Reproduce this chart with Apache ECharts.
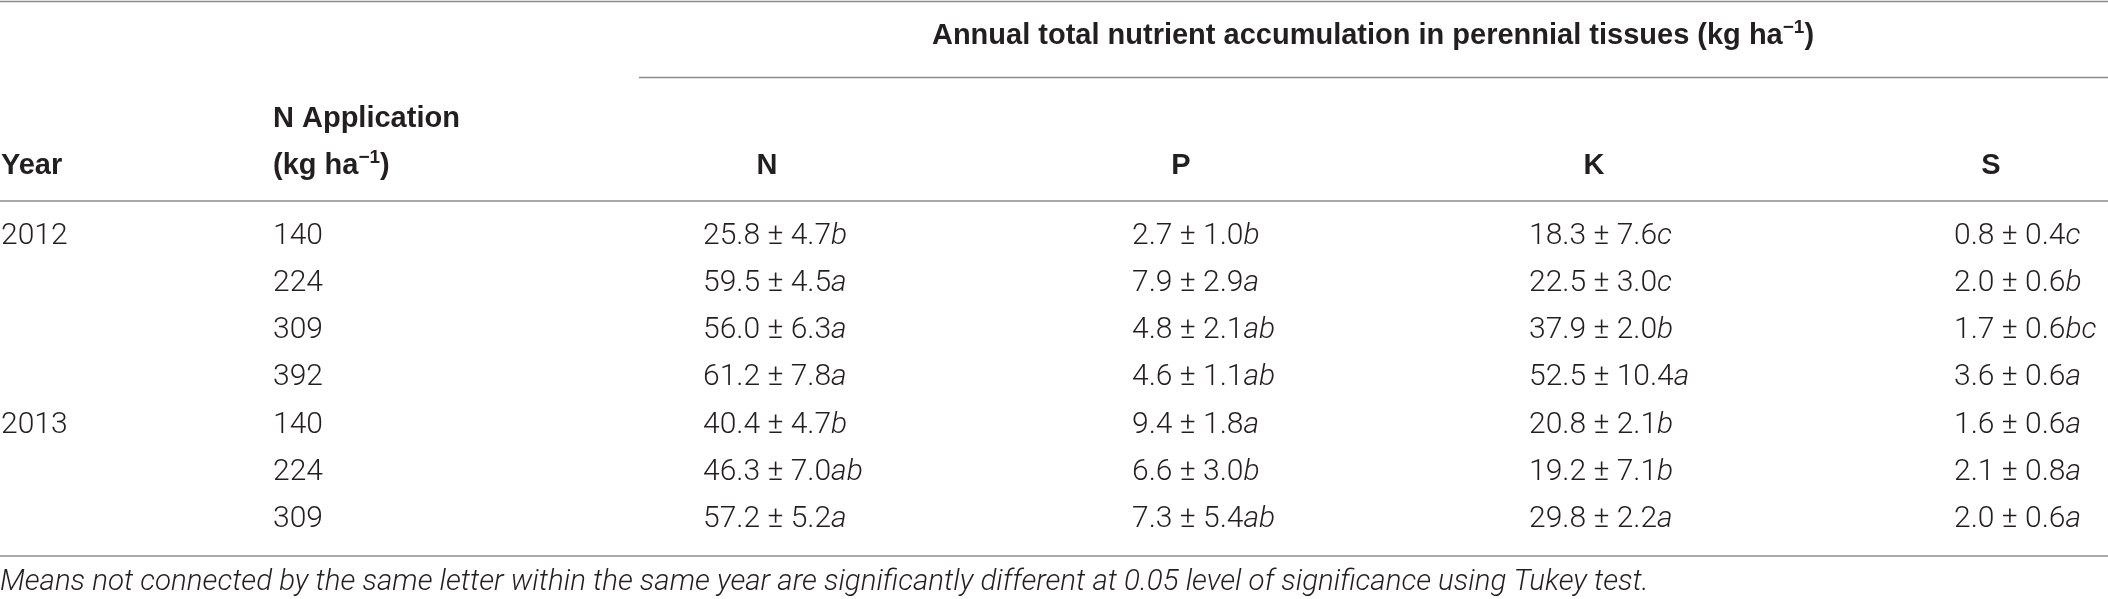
<!DOCTYPE html>
<html>
<head>
<meta charset="utf-8">
<script src="https://cdn.jsdelivr.net/npm/echarts@6/dist/echarts.min.js"></script>
<style>
  html, body { margin: 0; padding: 0; background: #fff; }
  #tbl { width: 2108px; height: 599px; }
</style>
</head>
<body>
<div id="tbl"></div>
<script>
// ---- table data ----
var years = ['2012', '2012', '2012', '2012', '2013', '2013', '2013'];
var nRates = [140, 224, 309, 392, 140, 224, 309];

var nMean = [25.8, 59.5, 56.0, 61.2, 40.4, 46.3, 57.2];
var nSe = [4.7, 4.5, 6.3, 7.8, 4.7, 7.0, 5.2];
var nLetter = ['b', 'a', 'a', 'a', 'b', 'ab', 'a'];

var pMean = [2.7, 7.9, 4.8, 4.6, 9.4, 6.6, 7.3];
var pSe = [1.0, 2.9, 2.1, 1.1, 1.8, 3.0, 5.4];
var pLetter = ['b', 'a', 'ab', 'ab', 'a', 'b', 'ab'];

var kMean = [18.3, 22.5, 37.9, 52.5, 20.8, 19.2, 29.8];
var kSe = [7.6, 3.0, 2.0, 10.4, 2.1, 7.1, 2.2];
var kLetter = ['c', 'c', 'b', 'a', 'b', 'b', 'a'];

var sMean = [0.8, 2.0, 1.7, 3.6, 1.6, 2.1, 2.0];
var sSe = [0.4, 0.6, 0.6, 0.6, 0.6, 0.8, 0.6];
var sLetter = ['c', 'b', 'bc', 'a', 'a', 'a', 'a'];

var nutrients = ['N', 'P', 'K', 'S'];
var spanTitle = 'Annual total nutrient accumulation in perennial tissues (kg ha';
var footnote = 'Means not connected by the same letter within the same year are significantly different at 0.05 level of significance using Tukey test.';

// ---- layout (pixels) ----
var W = 2108, H = 599;
var rowTop = 236, rowStep = 47.3;
var colYear = 1, colRate = 273;
var valueLeft = [703, 1132, 1529, 1954];
var headCenter = [767, 1181, 1594, 1991];
var titleCenter = 1373;
var rules = [
    [1.5, 0, W],
    [77.5, 639, W],
    [201, 0, W],
    [556, 0, W]
];

var ink = '#231f20';
var rich = {
    r: { fontFamily: 'Roboto', fontWeight: 300, fontSize: 30, fill: ink },
    it: { fontFamily: 'Roboto', fontWeight: 300, fontStyle: 'italic', fontSize: 30, fill: ink },
    fn: { fontFamily: 'Roboto', fontWeight: 300, fontStyle: 'italic', fontSize: 29.5, fill: ink },
    b: { fontFamily: 'Liberation Sans', fontWeight: 'bold', fontSize: 29, lineHeight: 36, fill: ink },
    sup: { fontFamily: 'Liberation Sans', fontWeight: 'bold', fontSize: 19, lineHeight: 14, verticalAlign: 'top', fill: ink }
};

// build cells
var cells = [];
function cell(x, y, text, align) {
    cells.push({ x: x, y: y, text: text, align: align || 'left' });
}
cell(titleCenter, 36, '{b|' + spanTitle + '}{sup|−1}{b|)}', 'center');
cell(colRate, 118.6, '{b|N Application}');
cell(colRate, 166, '{b|(kg ha}{sup|−1}{b|)}');
cell(colYear, 166, '{b|Year}');
nutrients.forEach(function (n, j) {
    cell(headCenter[j], 166, '{b|' + n + '}', 'center');
});

var cols = [[nMean, nSe, nLetter], [pMean, pSe, pLetter], [kMean, kSe, kLetter], [sMean, sSe, sLetter]];
nRates.forEach(function (rate, i) {
    var y = rowTop + i * rowStep;
    if (i === 0 || years[i] !== years[i - 1]) cell(colYear, y, '{r|' + years[i] + '}');
    cell(colRate, y, '{r|' + rate + '}');
    cols.forEach(function (c, j) {
        cell(valueLeft[j], y, '{r|' + c[0][i].toFixed(1) + ' ± ' + c[1][i].toFixed(1) + '}{it|' + c[2][i] + '}');
    });
});
cell(0, 583, '{fn|' + footnote + '}');

var chart = echarts.init(document.getElementById('tbl'), null, { renderer: 'canvas' });

var option = {
    animation: false,
    grid: { left: 0, right: 0, top: 0, bottom: 0 },
    xAxis: { type: 'value', min: 0, max: W, show: false },
    yAxis: { type: 'value', min: 0, max: H, inverse: true, show: false },
    series: [{
        // horizontal rules
        type: 'custom',
        data: rules,
        renderItem: function (params, api) {
            var a = api.coord([api.value(1), api.value(0)]);
            var b = api.coord([api.value(2), api.value(0)]);
            return {
                type: 'line',
                shape: { x1: a[0], y1: a[1], x2: b[0], y2: b[1] },
                style: { stroke: '#8d8d8d', lineWidth: 1.6 }
            };
        }
    }, {
        // text cells
        type: 'custom',
        data: cells.map(function (c) { return [c.x, c.y]; }),
        renderItem: function (params, api) {
            var c = cells[params.dataIndex];
            var p = api.coord([api.value(0), api.value(1)]);
            return {
                type: 'text',
                x: p[0],
                y: p[1],
                style: {
                    text: c.text,
                    rich: rich,
                    fontFamily: 'Roboto',
                    fontSize: 30,
                    fill: ink,
                    align: c.align,
                    verticalAlign: 'middle'
                }
            };
        }
    }]
};
chart.setOption(option);
</script>
</body>
</html>
